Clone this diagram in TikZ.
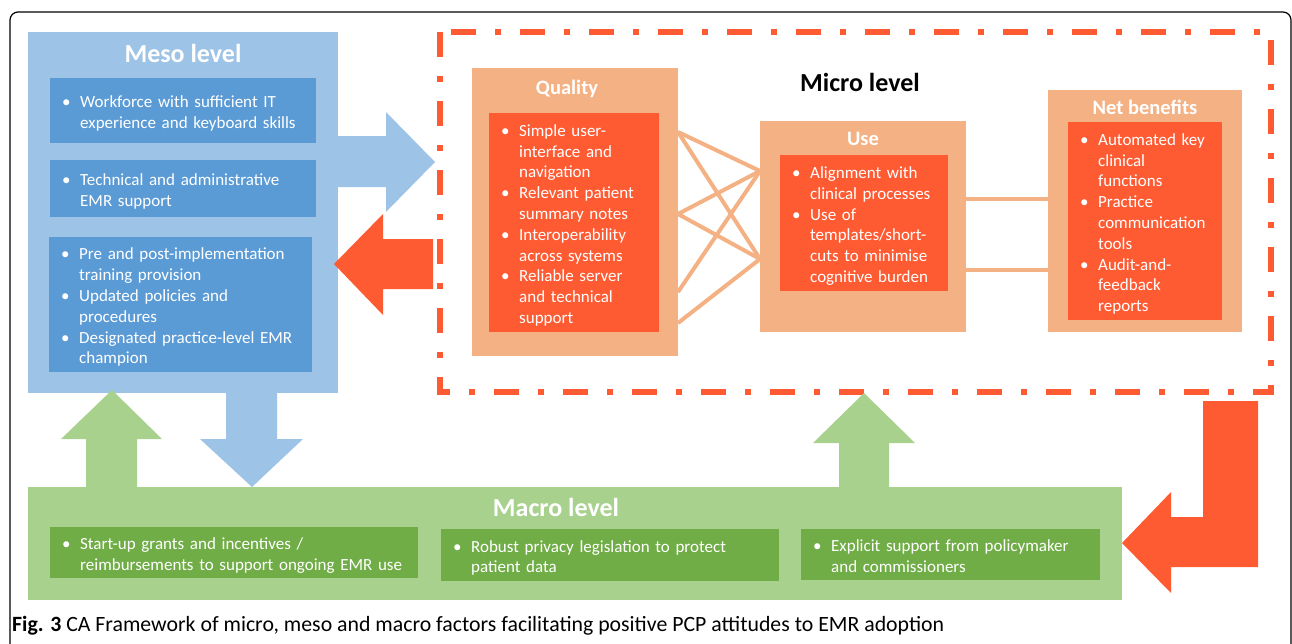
\documentclass[tikz,border=0pt]{standalone}
\usepackage{fontspec}
\setmainfont{Carlito}
\usetikzlibrary{positioning}

\definecolor{mesoBg}{HTML}{9DC3E6}
\definecolor{mesoFg}{HTML}{5B9BD5}
\definecolor{microBg}{HTML}{F4B183}
\definecolor{microFg}{HTML}{FF5B33}
\definecolor{macroBg}{HTML}{A9D18E}
\definecolor{macroFg}{HTML}{70AD47}

% bullet item: bullet, then a hanging block of lines
\newcommand{\itm}[1]{\par\lineskip=0pt\noindent\makebox[18pt][l]{\textbullet}%
	\parbox[t]{\dimexpr\linewidth-18pt\relax}{\raggedright\strut #1\strut}\par}

\begin{document}
\begin{tikzpicture}[x=1pt,y=-1pt,
	outerbox/.style={anchor=north west, inner sep=0pt, fill=#1},
	innerbox/.style={anchor=north west, fill=#1, text=white, inner xsep=12pt, inner ysep=0pt,
		font=\fontsize{17}{20.8}\selectfont},
	lvltitle/.style={font=\fontsize{26}{30}\selectfont\bfseries, text=white},
	subtitle/.style={font=\fontsize{20.5}{24}\selectfont\bfseries, text=white},
	link/.style={draw=microBg, line width=4pt}]
	\useasboundingbox (0,0) rectangle (1292,643);
	\draw[line width=1.2pt, rounded corners=8pt] (10,700) -- (10,12) -- (1291,12) -- (1291,700);

	% meso level
	\node[outerbox=mesoBg, minimum width=310pt, minimum height=361pt] (meso) at (28,32) {};
	\node[lvltitle] (meso-t) at (183,53) {Meso level};
	\node[innerbox=mesoFg, text width=242pt, minimum height=65pt] (workforce) at (50,78)
		{\itm{Workforce with sufficient IT\\ experience and keyboard skills}};
	\node[innerbox=mesoFg, text width=242pt, minimum height=57pt] (support) at (50,160)
		{\itm{Technical and administrative\\ EMR support}};
	\node[innerbox=mesoFg, text width=239pt, minimum height=135pt] (training) at (49,237)
		{\itm{Pre and post-implementation\\ training provision}
		 \itm{Updated policies and\\ procedures}
		 \itm{Designated practice-level EMR\\ champion}};

	% micro level
	\draw[microFg, line width=6pt, dash pattern=on 25pt off 19pt on 6pt off 19pt] (440,32) rectangle (1271,392);
	\node[font=\fontsize{26}{30}\selectfont\bfseries] (micro-t) at (860,82) {Micro level};

	\node[outerbox=microBg, minimum width=206pt, minimum height=288pt] (quality) at (472,68) {};
	\node[subtitle] (quality-t) at (567,89) {Quality};
	\node[innerbox=microFg, text width=146pt, minimum height=219pt] (quality-in) at (489,113)
		{\itm{Simple user-\\ interface and\\ navigation}
		 \itm{Relevant patient\\ summary notes}
		 \itm{Interoperability\\ across systems}
		 \itm{Reliable server\\ and technical\\ support}};

	\node[outerbox=microBg, minimum width=206pt, minimum height=211pt] (use) at (760,121) {};
	\node[subtitle] (use-t) at (863,139) {Use};
	\node[innerbox=microFg, text width=144pt, minimum height=136pt] (use-in) at (780,155)
		{\itm{Alignment with\\ clinical processes}
		 \itm{Use of\\ templates/short-\\ cuts to minimise\\ cognitive burden}};

	\node[outerbox=microBg, minimum width=194pt, minimum height=242pt] (net) at (1048,90) {};
	\node[subtitle] (net-t) at (1145,107) {Net benefits};
	\node[innerbox=microFg, text width=130pt, minimum height=198pt] (net-in) at (1068,122)
		{\itm{Automated key\\ clinical\\ functions}
		 \itm{Practice\\ communication\\ tools}
		 \itm{Audit-and-\\ feedback\\ reports}};

	% links quality -> use -> net benefits
	\coordinate (qa) at (678,132);
	\coordinate (qb) at (678,214);
	\coordinate (qc) at (678,292);
	\coordinate (qd) at (678,323);
	\coordinate (ua) at (760,171);
	\coordinate (ub) at (760,259);
	\coordinate (uc) at (966,199);
	\coordinate (ud) at (966,270);
	\coordinate (na) at (1048,199);
	\coordinate (nb) at (1048,270);
	\draw[link] (qa) -- (ua);
	\draw[link] (qa) -- (ub);
	\draw[link] (qb) -- (ua);
	\draw[link] (qb) -- (ub);
	\draw[link] (qc) -- (ua);
	\draw[link] (qd) -- (ub);
	\draw[link] (uc) -- (na);
	\draw[link] (ud) -- (nb);

	% macro level
	\node[outerbox=macroBg, minimum width=1094pt, minimum height=113pt] (macro) at (28,487) {};
	\node[lvltitle] (macro-t) at (556,507) {Macro level};
	\node[innerbox=macroFg, text width=344pt, minimum height=51pt] (grants) at (50,527)
		{\itm{Start-up grants and incentives /\\ reimbursements to support ongoing EMR use}};
	\node[innerbox=macroFg, text width=314pt, minimum height=52pt] (privacy) at (441,529)
		{\itm{Robust privacy legislation to protect\\ patient data}};
	\node[innerbox=macroFg, text width=275pt, minimum height=51pt] (policy) at (801,529)
		{\itm{Explicit support from policymaker\\ and commissioners}};

	% block arrows
	\fill[mesoBg] (338,136) -- (386,136) -- (386,112) -- (435,162) -- (386,212) -- (386,187) -- (338,187) -- cycle;
	\fill[microFg] (433,239) -- (383,239) -- (383,214) -- (334,264) -- (383,315) -- (383,289) -- (433,289) -- cycle;
	\fill[macroBg] (86,487) -- (86,439) -- (61,439) -- (112,390) -- (162,439) -- (137,439) -- (137,487) -- cycle;
	\fill[mesoBg] (226,393) -- (226,439) -- (200,439) -- (252,487) -- (303,439) -- (277,439) -- (277,393) -- cycle;
	\fill[macroBg] (839,487) -- (839,443) -- (813,443) -- (864,393) -- (915,443) -- (889,443) -- (889,487) -- cycle;
	\fill[microFg] (1203,401) -- (1258,401) -- (1258,567) -- (1171,567) -- (1171,593) -- (1122,543) -- (1171,492) -- (1171,517) -- (1203,517) -- cycle;

	\node[anchor=west, inner sep=0pt, font=\fontsize{21.8}{24}\selectfont] (caption) at (12,626)
		{\textbf{Fig. 3} CA Framework of micro, meso and macro factors facilitating positive PCP attitudes to EMR adoption};
\end{tikzpicture}
\end{document}
